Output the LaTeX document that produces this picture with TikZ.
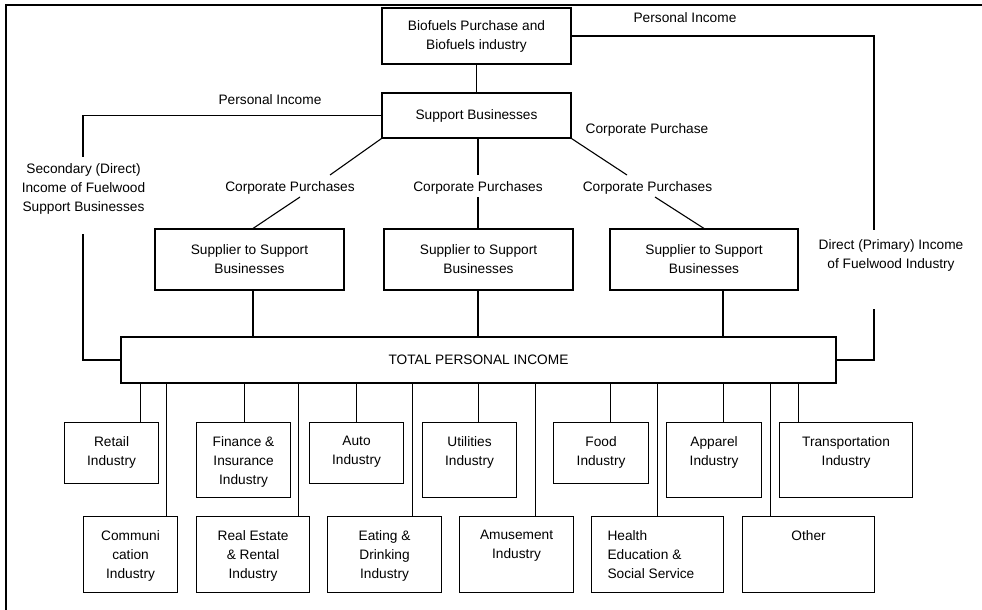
\documentclass[tikz,border=0pt]{standalone}
\usepackage{fontspec}
\setmainfont{Liberation Sans}
\usetikzlibrary{positioning}
\usetikzlibrary{calc}
\tikzset{blk/.style={draw, inner sep=0pt, align=center}}
\tikzset{ind/.style={blk, anchor=north west}}
\tikzset{lbl/.style={inner sep=0pt, align=center}}

\begin{document}
\begin{tikzpicture}[x=1pt, y=-1pt, line width=1.1pt, font=\fontsize{13.7}{19}\selectfont]
\useasboundingbox (0,0) rectangle (982,610);

% frame
\draw[line width=2pt] (6,610) -- (6,5) -- (982,5);

% top part
\node[blk, minimum width=189, minimum height=56] (bio) at (476.5,36) {Biofuels Purchase and\\Biofuels industry};
\node[blk, minimum width=189, minimum height=45] (sup) at (476.5,115.5) {Support Businesses};

\node[blk, minimum width=189, minimum height=61] (s1) at (249.5,259.5) {Supplier to Support\\Businesses};
\node[blk, minimum width=189, minimum height=61] (s2) at (478.5,259.5) {Supplier to Support\\Businesses};
\node[blk, minimum width=188, minimum height=61] (s3) at (704,259.5) {Supplier to Support\\Businesses};

\node[blk, minimum width=715, minimum height=46] (tot) at (478.5,360) {TOTAL PERSONAL INCOME};

% labels
\node[lbl] (pi1) at (270,100) {Personal Income};
\node[lbl] (pi2) at (685,18) {Personal Income};
\node[lbl] (cp0) at (647,130) {Corporate Purchase};
\node[lbl] (cp1) at (290,188) {Corporate Purchases};
\node[lbl] (cp2) at (478,188) {Corporate Purchases};
\node[lbl] (cp3) at (647.5,188) {Corporate Purchases};
\node[lbl] (sec) at (83.5,189) {Secondary (Direct)\\Income of Fuelwood\\Support Businesses};
\node[lbl] (dir) at (891,255) {Direct (Primary) Income\\of Fuelwood Industry};

\coordinate (stop) at (83,157);
\coordinate (sbot) at (83,234);
\coordinate (dtop) at (874,230);
\coordinate (dbot) at (874,309);
\coordinate (c1a) at (330,175);
\coordinate (c1b) at (300,197);
\coordinate (c3a) at (627,175);
\coordinate (c3b) at (655,197);

\draw (bio) -- (sup);
\draw (sup.west) -| (stop);
\draw (sbot) |- (tot.west);
\draw (bio.east) -| (dtop);
\draw (dbot) |- (tot.east);

\draw (sup.south west) -- (c1a);
\draw (c1b) -- ([xshift=3.5pt]s1.north);
\draw ([xshift=1.5pt]sup.south) -- ([xshift=1.5pt]sup.south |- 0,175);
\draw ([xshift=-0.5pt]s2.north |- 0,197) -- ([xshift=-0.5pt]s2.north);
\draw (sup.south east) -- (c3a);
\draw (c3b) -- (s3.north);

\draw ([xshift=3.5pt]s1.south) -- ([xshift=3.5pt]s1.south |- tot.north);
\draw ([xshift=-0.5pt]s2.south) -- ([xshift=-0.5pt]s2.south |- tot.north);
\draw ([xshift=19pt]s3.south) -- ([xshift=19pt]s3.south |- tot.north);

% industries, upper row
\node[ind, minimum width=94, minimum height=61] (ret) at (64,422) {};
\node[lbl, below=14pt of ret.north] (ret-t) {Retail\\Industry};
\node[ind, minimum width=94, minimum height=75] (fin) at (196,422) {};
\node[lbl, below=14pt of fin.north] (fin-t) {Finance \&\\Insurance\\Industry};
\node[ind, minimum width=94, minimum height=61] (aut) at (309,422) {};
\node[lbl, below=14pt of aut.north] (aut-t) {Auto\\Industry};
\node[ind, minimum width=94, minimum height=75] (uti) at (422,422) {};
\node[lbl, below=14pt of uti.north] (uti-t) {Utilities\\Industry};
\node[ind, minimum width=95, minimum height=61] (foo) at (553,422) {};
\node[lbl, below=14pt of foo.north] (foo-t) {Food\\Industry};
\node[ind, minimum width=95, minimum height=75] (app) at (666,422) {};
\node[lbl, below=14pt of app.north] (app-t) {Apparel\\Industry};
\node[ind, minimum width=133, minimum height=75] (tra) at (779,422) {};
\node[lbl, below=14pt of tra.north] (tra-t) {Transportation\\Industry};

% industries, lower row
\node[ind, minimum width=94, minimum height=76] (com) at (83,516) {};
\node[lbl, below=14pt of com.north] (com-t) {Communi\\cation\\Industry};
\node[ind, minimum width=113, minimum height=76] (rea) at (196,516) {};
\node[lbl, below=14pt of rea.north] (rea-t) {Real Estate\\\& Rental\\Industry};
\node[ind, minimum width=114, minimum height=76] (eat) at (327,516) {};
\node[lbl, below=14pt of eat.north] (eat-t) {Eating \&\\Drinking\\Industry};
\node[ind, minimum width=114, minimum height=76] (amu) at (459,516) {};
\node[lbl, below=14pt of amu.north] (amu-t) {Amusement\\Industry};
\node[ind, minimum width=132, minimum height=76] (hea) at (591,516) {};
\node[lbl, align=left, below right=14pt and 16pt of hea.north west] (hea-t) {Health\\Education \&\\Social Service};
\node[ind, minimum width=132, minimum height=76] (oth) at (742,516) {};
\node[lbl, below=14pt of oth.north] (oth-t) {Other};

% connectors to total
\draw ([xshift=29pt]ret.north) -- ([xshift=29pt]ret.north |- tot.south);
\draw ([xshift=1pt]fin.north) -- ([xshift=1pt]fin.north |- tot.south);
\draw (aut.north) -- (aut.north |- tot.south);
\draw ([xshift=9pt]uti.north) -- ([xshift=9pt]uti.north |- tot.south);
\draw ([xshift=9.5pt]foo.north) -- ([xshift=9.5pt]foo.north |- tot.south);
\draw ([xshift=9.5pt]app.north) -- ([xshift=9.5pt]app.north |- tot.south);
\draw ([xshift=-47.5pt]tra.north) -- ([xshift=-47.5pt]tra.north |- tot.south);

\draw ([xshift=36pt]com.north) -- ([xshift=36pt]com.north |- tot.south);
\draw ([xshift=45.5pt]rea.north) -- ([xshift=45.5pt]rea.north |- tot.south);
\draw ([xshift=28pt]eat.north) -- ([xshift=28pt]eat.north |- tot.south);
\draw ([xshift=19pt]amu.north) -- ([xshift=19pt]amu.north |- tot.south);
\draw (hea.north) -- (hea.north |- tot.south);
\draw ([xshift=-38pt]oth.north) -- ([xshift=-38pt]oth.north |- tot.south);
\end{tikzpicture}
\end{document}
